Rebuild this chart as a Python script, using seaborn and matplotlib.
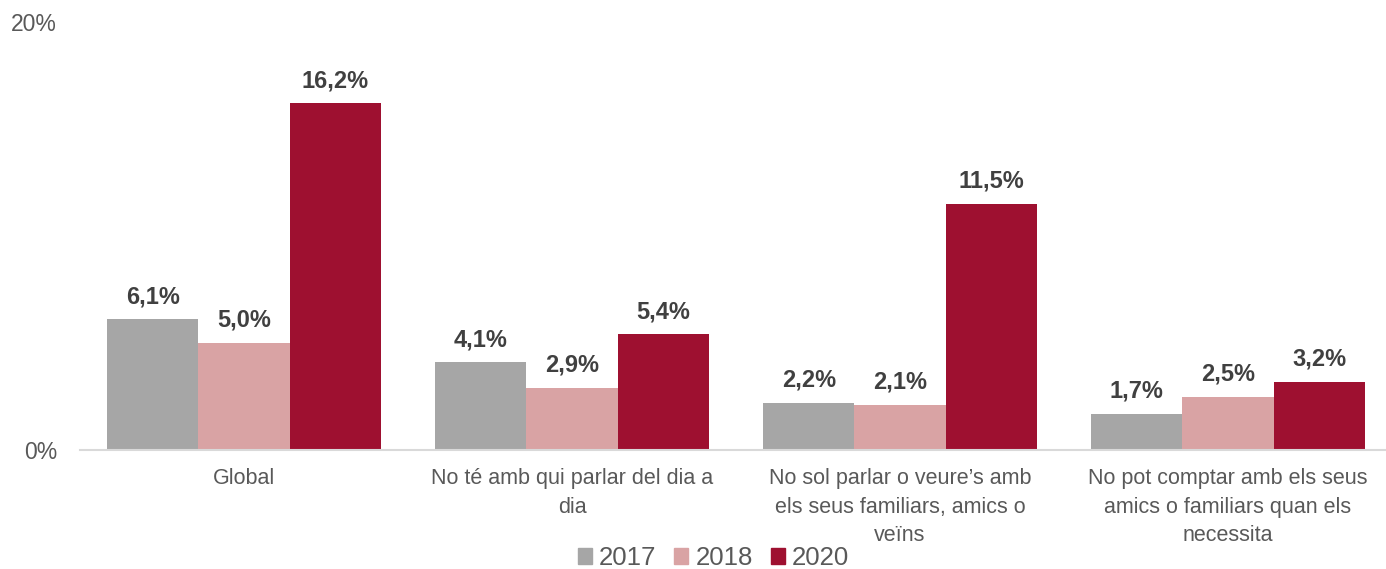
import matplotlib
matplotlib.use("Agg")
import matplotlib.pyplot as plt
import seaborn as sns
import pandas as pd

categories = [
    "Global",
    "No té amb qui parlar del dia a\ndia",
    "No sol parlar o veure’s amb\nels seus familiars, amics o\nveïns",
    "No pot comptar amb els seus\namics o familiars quan els\nnecessita",
]
years = ["2017", "2018", "2020"]
values_2017 = [6.1, 4.1, 2.2, 1.7]
values_2018 = [5.0, 2.9, 2.1, 2.5]
values_2020 = [16.2, 5.4, 11.5, 3.2]
colors = ["#A6A6A6", "#D9A3A4", "#9E1030"]

rows = []
for yr, vals in zip(years, [values_2017, values_2018, values_2020]):
    for c, v in zip(categories, vals):
        rows.append({"cat": c, "year": yr, "value": v})
df = pd.DataFrame(rows)

sns.set_theme(style="white")
plt.rcParams["font.family"] = ["Liberation Sans", "DejaVu Sans"]

fig = plt.figure(figsize=(13.86, 5.69), dpi=100)
ax = fig.add_axes([80 / 1386, 1 - 450 / 569, 1 - 80 / 1386, (450 - 22) / 569])

sns.barplot(data=df, x="cat", y="value", hue="year", palette=colors,
            width=0.835, linewidth=0, saturation=1, ax=ax, errorbar=None)

ax.set_ylim(0, 20)
ax.set_xlim(-0.5, -0.5 + 1306 / 328)
ax.set_yticks([0, 20])
ax.set_yticklabels(["0%", "20%"], fontsize=16.5, color="#595959")
ax.tick_params(axis="y", length=0, pad=16.5)
ax.tick_params(axis="x", length=0, pad=13, labelsize=15.5, labelcolor="#595959")
ax.set_xlabel("")
ax.set_ylabel("")
for s in ["top", "right", "left"]:
    ax.spines[s].set_visible(False)
ax.spines["bottom"].set_color("#D9D9D9")
ax.spines["bottom"].set_linewidth(1.5)
for lbl in ax.get_xticklabels():
    lbl.set_linespacing(1.47)

for cont in ax.containers:
    ax.bar_label(cont, labels=[f"{v:.1f}%".replace(".", ",") for v in cont.datavalues],
                 padding=8, fontsize=17, fontweight="bold", color="#404040")

ax.get_legend().remove()
handles = [plt.Rectangle((0, 0), 1, 1, color=c) for c in colors]
leg = fig.legend(handles, years, loc="center", bbox_to_anchor=(713.5 / 1386, 1 - 558 / 569),
                 ncol=3, frameon=False, fontsize=18.5, handlelength=0.55, handleheight=0.55,
                 handletextpad=0.27, columnspacing=0.7, borderaxespad=0, borderpad=0)
for t in leg.get_texts():
    t.set_color("#595959")

fig.savefig("out.png", dpi=100)
